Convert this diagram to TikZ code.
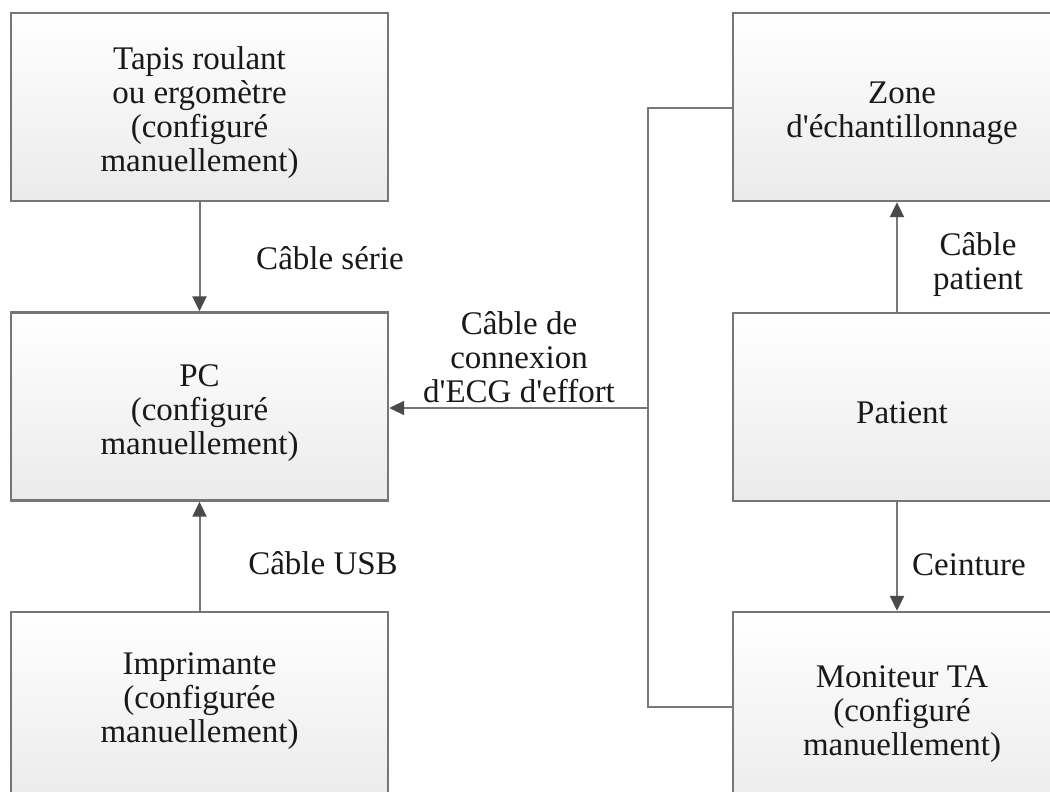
\documentclass[tikz,border=0pt]{standalone}
\usepackage{fontspec}
\setmainfont{Liberation Serif}
\usetikzlibrary{arrows.meta}
\definecolor{boxline}{HTML}{767676}
\definecolor{wire}{HTML}{777777}
\definecolor{tipc}{HTML}{4A4A4A}
\newcommand{\apo}{\textquotesingle}
\begin{document}
\begin{tikzpicture}[x=1pt,y=-1pt,
  every node/.style={font=\fontsize{33}{34}\selectfont, text=black!90},
  box/.style={draw=boxline, line width=2.4pt, top color=white, bottom color=black!8,
    shading angle=0, inner sep=0pt},
  lbox/.style={box, minimum width=377pt, minimum height=188pt},
  rbox/.style={box, minimum width=338pt, minimum height=188pt},
  txt/.style={align=center, inner sep=0pt},
  wireline/.style={draw=wire, line width=2pt},
  conn/.style={wireline, -{Triangle[length=15pt,width=14pt,color=tipc]}},
  lab/.style={align=center, inner sep=0pt}]
\useasboundingbox (0,0) rectangle (1050,792);
\clip (0,0) rectangle (1050,792);
\fill[white] (0,0) rectangle (1050,792);

\node[lbox] (tl) at (199.5,107) {};
\node[lbox] (pc) at (199.5,406.5) {};
\node[lbox] (imp) at (199.5,706) {};
\node[rbox] (zone) at (902,107) {};
\node[rbox] (pat) at (902,407) {};
\node[rbox, minimum height=204pt] (mon) at (902,714) {};

\node[txt] (tl-t) at ([yshift=-6pt]tl.center) {Tapis roulant\\ou ergomètre\\(configuré\\manuellement)};
\node[txt] (pc-t) at ([yshift=-7pt]pc.center) {PC\\(configuré\\manuellement)};
\node[txt] (imp-t) at ([yshift=5pt]imp.center) {Imprimante\\(configurée\\manuellement)};
\node[txt] (zone-t) at ([yshift=-6pt]zone.center) {Zone\\d\apo échantillonnage};
\node[txt] (pat-t) at ([yshift=-6pt]pat.center) {Patient};
\node[txt] (mon-t) at (mon.center) {Moniteur TA\\(configuré\\manuellement)};

\draw[conn] (tl.south) -- (pc.north);
\draw[conn] (imp.north) -- (pc.south);
\draw[conn] ([xshift=-5pt]pat.north) -- ([xshift=-5pt]zone.south);
\draw[conn] ([xshift=-5pt]pat.south) -- ([xshift=-5pt]mon.north);

\coordinate (bustop) at (648,108);
\coordinate (busbot) at (648,707);
\coordinate (bus) at (648,408);
\draw[wireline] (zone.west |- bustop) -- (bustop) -- (busbot) -- (mon.west |- busbot);
\draw[conn] (bus) -- (pc.east |- bus);

\node[lab] (l1) at (330,258) {Câble série};
\node[lab] (l2) at (323,563) {Câble USB};
\node[lab] (l3) at (519,357) {Câble de\\connexion\\d\apo ECG d\apo effort};
\node[lab] (l4) at (978,265) {Câble\\patient};
\node[lab] (l5) at (969,565) {Ceinture};
\end{tikzpicture}
\end{document}
